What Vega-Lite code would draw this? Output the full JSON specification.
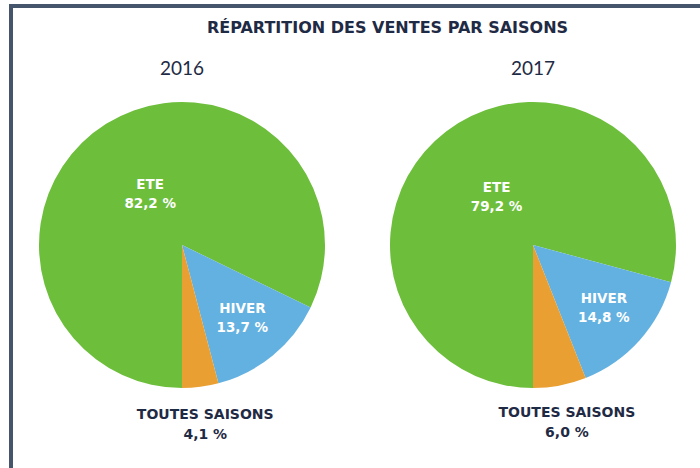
{
  "$schema": "https://vega.github.io/schema/vega-lite/v6.json",
  "width": 689,
  "height": 462,
  "autosize": "none",
  "padding": {"left": 11, "top": 6, "right": 0, "bottom": 0},
  "background": "white",
  "title": {
    "text": "RÉPARTITION DES VENTES PAR SAISONS",
    "anchor": "middle",
    "frame": "group",
    "offset": -30,
    "dx": 32,
    "font": "DejaVu Sans",
    "fontSize": 16,
    "fontWeight": "bold",
    "color": "#1f2a44"
  },
  "datasets": {
    "ventes": [
      {"annee": 2016, "saison": "ETE", "pct": 82.2},
      {"annee": 2016, "saison": "HIVER", "pct": 13.7},
      {"annee": 2016, "saison": "TOUTES SAISONS", "pct": 4.1},
      {"annee": 2017, "saison": "ETE", "pct": 79.2},
      {"annee": 2017, "saison": "HIVER", "pct": 14.8},
      {"annee": 2017, "saison": "TOUTES SAISONS", "pct": 6.0}
    ],
    "annees": [
      {"annee": 2016},
      {"annee": 2017}
    ]
  },
  "transform": [
    {"stack": "pct", "groupby": ["annee"], "sort": [{"field": "saison", "order": "ascending"}], "as": ["debut", "fin"]},
    {"calculate": "(datum.debut + datum.fin) / 2", "as": "milieu"},
    {"calculate": "datum.saison + '\\n' + replace(format(datum.pct, '.1f'), '.', ',') + ' %'", "as": "etiquette"}
  ],
  "data": {"name": "ventes"},
  "layer": [
    {
      "mark": {"type": "arc", "outerRadius": 143},
      "encoding": {
        "x": {"field": "annee", "type": "ordinal", "scale": {"type": "point", "domain": [2016, 2017], "range": [171, 522], "padding": 0}, "axis": null},
        "y": {"value": 239},
        "theta": {"field": "debut", "type": "quantitative", "stack": null, "scale": {"domain": [0, 100], "range": [3.14159265, 9.42477796]}},
        "theta2": {"field": "fin"},
        "color": {"field": "saison", "type": "nominal", "legend": null,
          "scale": {"domain": ["ETE", "HIVER", "TOUTES SAISONS"], "range": ["#6dbe3b", "#63b1e0", "#e99f32"]}}
      }
    },
    {
      "transform": [{"filter": "datum.saison === 'ETE'"}],
      "mark": {"type": "text", "font": "DejaVu Sans", "fontWeight": "bold", "fontSize": 13.5, "lineBreak": "\n", "lineHeight": 19, "align": "center", "baseline": "middle", "radius": 60, "dy": -9.5, "color": "white"},
      "encoding": {
        "x": {"field": "annee", "type": "ordinal", "axis": null},
        "y": {"value": 239},
        "theta": {"field": "milieu", "type": "quantitative", "stack": null},
        "text": {"field": "etiquette", "type": "nominal"}
      }
    },
    {
      "transform": [{"filter": "datum.saison === 'HIVER'"}],
      "mark": {"type": "text", "font": "DejaVu Sans", "fontWeight": "bold", "fontSize": 13.5, "lineBreak": "\n", "lineHeight": 19, "align": "center", "baseline": "middle", "radius": 95, "dy": -9.5, "color": "white"},
      "encoding": {
        "x": {"field": "annee", "type": "ordinal", "axis": null},
        "y": {"value": 239},
        "theta": {"field": "milieu", "type": "quantitative", "stack": null},
        "text": {"field": "etiquette", "type": "nominal"}
      }
    },
    {
      "transform": [{"filter": "datum.saison === 'TOUTES SAISONS'"}],
      "mark": {"type": "text", "font": "DejaVu Sans", "fontWeight": "bold", "fontSize": 14, "lineBreak": "\n", "lineHeight": 20, "align": "center", "baseline": "middle", "radius": 181, "dy": -10, "color": "#1f2a44"},
      "encoding": {
        "x": {"field": "annee", "type": "ordinal", "axis": null},
        "y": {"value": 239},
        "theta": {"field": "milieu", "type": "quantitative", "stack": null},
        "text": {"field": "etiquette", "type": "nominal"}
      }
    },
    {
      "data": {"name": "annees"},
      "transform": [],
      "mark": {"type": "text", "font": "Lato", "fontSize": 19, "color": "#1f2a44", "align": "center", "baseline": "middle"},
      "encoding": {
        "x": {"field": "annee", "type": "ordinal", "axis": null},
        "y": {"value": 63},
        "text": {"field": "annee", "type": "nominal"}
      }
    }
  ],
  "config": {
    "view": {"stroke": "#45556b", "strokeWidth": 4, "strokeDash": [689, 1151, 462]}
  }
}
